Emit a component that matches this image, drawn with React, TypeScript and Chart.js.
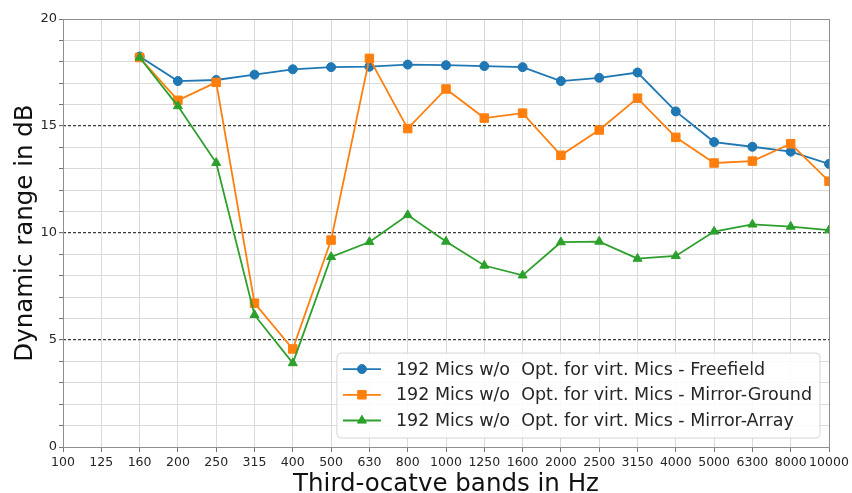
import React, { useEffect, useRef } from "react";
import { Chart, registerables } from "chart.js";

Chart.register(...registerables);

const categories = [
  "100", "125", "160", "200", "250", "315", "400", "500", "630", "800", "1000",
  "1250", "1600", "2000", "2500", "3150", "4000", "5000", "6300", "8000", "10000",
];

const freefield = [
  null, null, 18.25, 17.1, 17.15, 17.4, 17.65, 17.75, 17.77, 17.87, 17.84,
  17.8, 17.75, 17.1, 17.25, 17.5, 15.68, 14.25, 14.03, 13.8, 13.23,
];

const mirrorGround = [
  null, null, 18.2, 16.2, 17.04, 6.72, 4.58, 9.67, 18.16, 14.88, 16.73,
  15.37, 15.6, 13.63, 14.81, 16.3, 14.47, 13.27, 13.36, 14.17, 12.42,
];

const mirrorArray = [
  null, null, 18.2, 15.93, 13.28, 6.17, 3.92, 8.88, 9.58, 10.84, 9.6,
  8.48, 8.02, 9.57, 9.6, 8.8, 8.93, 10.07, 10.4, 10.3, 10.13,
];

const seriesLabels = [
  "192 Mics w/o  Opt. for virt. Mics - Freefield",
  "192 Mics w/o  Opt. for virt. Mics - Mirror-Ground",
  "192 Mics w/o  Opt. for virt. Mics - Mirror-Array",
];

const yTickLabels = [0, 5, 10, 15, 20];
const dashedLevels = [5, 10, 15];

const FONT = "'DejaVu Sans', sans-serif";

function drawMarker(ctx: CanvasRenderingContext2D, style: string, x: number, y: number, r: number) {
  ctx.beginPath();
  if (style === "circle") {
    ctx.arc(x, y, r, 0, Math.PI * 2);
  } else if (style === "rect") {
    const s = Math.SQRT1_2 * r;
    ctx.rect(x - s, y - s, 2 * s, 2 * s);
  } else {
    let rad = 0;
    ctx.moveTo(x + Math.sin(rad) * r, y - Math.cos(rad) * r);
    rad += (2 * Math.PI) / 3;
    ctx.lineTo(x + Math.sin(rad) * r, y - Math.cos(rad) * r);
    rad += (2 * Math.PI) / 3;
    ctx.lineTo(x + Math.sin(rad) * r, y - Math.cos(rad) * r);
    ctx.closePath();
  }
  ctx.fill();
  ctx.stroke();
}

const framePlugin = {
  id: "frame",
  afterDatasetsDraw(chart: any) {
    const { ctx, chartArea } = chart;
    const al = (p: number) => Math.round(p - 0.5) + 0.5;
    const l = al(chartArea.left);
    const t = al(chartArea.top);
    const r = al(chartArea.right);
    const b = al(chartArea.bottom);
    ctx.save();
    ctx.strokeStyle = "#8f8f8f";
    ctx.lineWidth = 1;
    ctx.setLineDash([]);
    ctx.strokeRect(l, t, r - l, b - t);
    ctx.restore();
  },
};

const legendPlugin = {
  id: "insideLegend",
  afterDraw(chart: any) {
    const { ctx, chartArea } = chart;
    const datasets = chart.data.datasets;
    ctx.save();
    ctx.font = `17.5px ${FONT}`;
    let textW = 0;
    datasets.forEach((d: any) => {
      textW = Math.max(textW, ctx.measureText(d.label).width);
    });
    const rowH = 25.7;
    const padTop = 16;
    const width = 59 + textW + 8;
    const height = padTop + rowH * (datasets.length - 1) + 17.5;
    const right = chartArea.right - 9;
    const bottom = chartArea.bottom - 9;
    const left = right - width;
    const top = bottom - height;
    ctx.fillStyle = "rgba(255,255,255,0.85)";
    ctx.strokeStyle = "#d6d6d6";
    ctx.lineWidth = 1;
    ctx.beginPath();
    const rr = 4;
    ctx.moveTo(left + rr, top);
    ctx.lineTo(left + width - rr, top);
    ctx.quadraticCurveTo(left + width, top, left + width, top + rr);
    ctx.lineTo(left + width, top + height - rr);
    ctx.quadraticCurveTo(left + width, top + height, left + width - rr, top + height);
    ctx.lineTo(left + rr, top + height);
    ctx.quadraticCurveTo(left, top + height, left, top + height - rr);
    ctx.lineTo(left, top + rr);
    ctx.quadraticCurveTo(left, top, left + rr, top);
    ctx.closePath();
    ctx.fill();
    ctx.stroke();

    datasets.forEach((d: any, i: number) => {
      const y = top + padTop + i * rowH;
      ctx.strokeStyle = d.borderColor;
      ctx.fillStyle = d.backgroundColor;
      ctx.lineWidth = d.borderWidth;
      ctx.beginPath();
      ctx.moveTo(left + 6, y);
      ctx.lineTo(left + 44, y);
      ctx.stroke();
      ctx.lineWidth = 1;
      drawMarker(ctx, d.pointStyle, left + 25, y, d.pointRadius);
      ctx.fillStyle = "#262626";
      ctx.textBaseline = "middle";
      ctx.textAlign = "left";
      ctx.fillText(d.label, left + 59, y + 1);
    });
    ctx.restore();
  },
};

export default function App() {
  const canvasRef = useRef<HTMLCanvasElement | null>(null);

  useEffect(() => {
    document.body.style.margin = "0";
    const canvas = canvasRef.current;
    if (!canvas) return;
    const isMajor = (ctx: any) =>
      ctx && ctx.tick && dashedLevels.includes(ctx.tick.value);

    const chart = new Chart(canvas, {
      type: "line",
      data: {
        labels: categories,
        datasets: [
          {
            label: seriesLabels[0],
            data: freefield,
            borderColor: "#1f77b4",
            backgroundColor: "#1f77b4",
            pointStyle: "circle",
            pointRadius: 4.5,
            pointBorderWidth: 1,
            borderWidth: 1.8,
            tension: 0,
            clip: 0,
            order: 3,
          },
          {
            label: seriesLabels[1],
            data: mirrorGround,
            borderColor: "#ff7f0e",
            backgroundColor: "#ff7f0e",
            pointStyle: "rect",
            pointRadius: 6,
            pointBorderWidth: 1,
            borderWidth: 1.8,
            tension: 0,
            clip: 0,
            order: 2,
          },
          {
            label: seriesLabels[2],
            data: mirrorArray,
            borderColor: "#2ca02c",
            backgroundColor: "#2ca02c",
            pointStyle: "triangle",
            pointRadius: 5.2,
            pointBorderWidth: 1,
            borderWidth: 1.8,
            tension: 0,
            clip: 0,
            order: 1,
          },
        ] as any,
      },
      options: {
        animation: false,
        responsive: false,
        devicePixelRatio: 1,
        layout: { padding: { top: 19, right: 23, left: 0, bottom: 0 } },
        plugins: {
          legend: { display: false },
          tooltip: { enabled: false },
        },
        scales: {
          x: {
            type: "category",
            offset: false,
            grid: {
              color: "#dadada",
              lineWidth: 1,
              drawTicks: true,
              tickLength: 5,
              tickColor: "#777",
            },
            border: { display: false },
            ticks: {
              autoSkip: false,
              maxRotation: 0,
              minRotation: 0,
              padding: 3,
              color: "#262626",
              font: { family: FONT, size: 12.5 },
            },
            title: {
              display: true,
              text: "Third-ocatve bands in Hz",
              color: "#111",
              font: { family: FONT, size: 24.5, lineHeight: 0.7 },
              padding: 0,
            },
            afterFit: (s: any) => {
              s.height = 46;
            },
          },
          y: {
            min: 0,
            max: 20,
            grid: {
              color: (ctx: any) => (isMajor(ctx) ? "#3a3a3a" : "#dadada"),
              lineWidth: (ctx: any) => (isMajor(ctx) ? 1.2 : 1),
              drawTicks: true,
              tickLength: 4,
              tickColor: "#777",
            },
            border: {
              display: false,
              dash: (ctx: any) => (isMajor(ctx) ? [3, 2] : []),
            },
            ticks: {
              stepSize: 1,
              autoSkip: false,
              padding: 2,
              color: "#262626",
              font: { family: FONT, size: 13 },
              callback: (v: any) => (yTickLabels.includes(Number(v)) ? String(v) : ""),
            },
            title: {
              display: true,
              text: "Dynamic range in dB",
              color: "#111",
              font: { family: FONT, size: 24.5, lineHeight: 1 },
              padding: { top: 13, bottom: 0 },
            },
            afterFit: (s: any) => {
              s.width = 63;
            },
          },
        },
      } as any,
      plugins: [framePlugin, legendPlugin],
    });
    return () => chart.destroy();
  }, []);

  return (
    <div style={{ position: "absolute", left: 0, top: 0, width: 852, height: 493 }}>
      <canvas ref={canvasRef} width={852} height={493} style={{ width: 852, height: 493 }} />
    </div>
  );
}
